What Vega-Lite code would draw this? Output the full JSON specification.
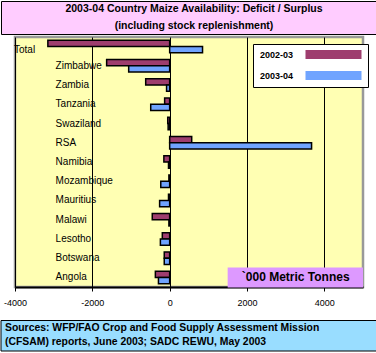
{
  "$schema": "https://vega.github.io/schema/vega-lite/v6.json",
  "padding": 0,
  "background": "white",
  "spacing": 3,
  "bounds": "flush",
  "center": true,
  "config": {
    "view": {"stroke": null},
    "font": "Liberation Sans",
    "locale": {"number": {"decimal": ".", "thousands": ",", "grouping": [3], "currency": ["$", ""], "minus": "-"}},
    "axisX": {
      "title": null, "format": "d",
      "grid": true, "gridColor": "black", "gridWidth": 1, "gridOpacity": 1,
      "domainColor": "black", "domainWidth": 2,
      "tickColor": "black", "tickSize": 4, "tickWidth": 1,
      "labelFont": "Liberation Sans", "labelFontSize": 9, "labelColor": "black",
      "labelPadding": 7, "labelFlush": false, "labelOverlap": false, "labelSeparation": -30
    }
  },
  "resolve": {"scale": {"color": "independent", "x": "independent", "y": "independent"}, "legend": {"color": "independent"}},
  "vconcat": [
    {
      "width": 376,
      "height": 33,
      "view": {"fill": "#FFCCFF", "stroke": "black", "strokeWidth": 1},
      "data": {"values": [
        {"line": 1, "t": "2003-04 Country Maize Availability: Deficit / Surplus"},
        {"line": 2, "t": "(including stock replenishment)"}
      ]},
      "mark": {"type": "text", "fontWeight": "bold", "fontSize": 10.5, "baseline": "middle", "dx": 5, "color": "black", "font": "Liberation Sans"},
      "encoding": {
        "y": {"field": "line", "type": "ordinal", "axis": null, "scale": {"paddingInner": 0, "paddingOuter": 0.3}},
        "text": {"field": "t", "type": "nominal"}
      }
    },
    {
      "width": 348,
      "height": 250,
      "view": {"fill": "#FFFFB3", "stroke": "#999999", "strokeWidth": 2.5},
      "data": {
        "values": [
          {"country": "Total", "year": "2002-03", "value": -3150},
          {"country": "Total", "year": "2003-04", "value": 850},
          {"country": "Zimbabwe", "year": "2002-03", "value": -1630},
          {"country": "Zimbabwe", "year": "2003-04", "value": -1060},
          {"country": "Zambia", "year": "2002-03", "value": -620},
          {"country": "Zambia", "year": "2003-04", "value": -80},
          {"country": "Tanzania", "year": "2002-03", "value": -130},
          {"country": "Tanzania", "year": "2003-04", "value": -490},
          {"country": "Swaziland", "year": "2002-03", "value": -50},
          {"country": "Swaziland", "year": "2003-04", "value": -40},
          {"country": "RSA", "year": "2002-03", "value": 570},
          {"country": "RSA", "year": "2003-04", "value": 3670},
          {"country": "Namibia", "year": "2002-03", "value": -150},
          {"country": "Namibia", "year": "2003-04", "value": -30},
          {"country": "Mozambique", "year": "2002-03", "value": -20},
          {"country": "Mozambique", "year": "2003-04", "value": -230},
          {"country": "Mauritius", "year": "2002-03", "value": -30},
          {"country": "Mauritius", "year": "2003-04", "value": -260},
          {"country": "Malawi", "year": "2002-03", "value": -450},
          {"country": "Malawi", "year": "2003-04", "value": -20},
          {"country": "Lesotho", "year": "2002-03", "value": -190},
          {"country": "Lesotho", "year": "2003-04", "value": -240},
          {"country": "Botswana", "year": "2002-03", "value": -140},
          {"country": "Botswana", "year": "2003-04", "value": -140},
          {"country": "Angola", "year": "2002-03", "value": -370},
          {"country": "Angola", "year": "2003-04", "value": -290}
        ]
      },
      "layer": [
        {
          "mark": {"type": "bar", "stroke": "black", "strokeWidth": 1.5},
          "encoding": {
            "y": {"field": "country", "type": "nominal", "sort": ["Total","Zimbabwe","Zambia","Tanzania","Swaziland","RSA","Namibia","Mozambique","Mauritius","Malawi","Lesotho","Botswana","Angola"], "axis": null, "scale": {"paddingInner": 0.35, "paddingOuter": 0.175}},
            "x": {
              "field": "value", "type": "quantitative",
              "scale": {"domain": [-4000, 5000], "nice": false, "zero": false},
              "axis": {"values": [-4000, -3000, -2000, -1000, 0, 1000, 2000, 3000, 4000, 5000], "labelOverlap": false, "labelSeparation": -30, "title": null}
            },
            "yOffset": {"field": "year", "type": "nominal", "sort": ["2002-03", "2003-04"]},
            "color": {
              "field": "year", "type": "nominal",
              "scale": {"domain": ["2002-03", "2003-04"], "range": ["#9E3D6E", "#70A4FF"]},
              "legend": {
                "orient": "none", "legendX": 238, "legendY": 7, "title": null, "direction": "vertical",
                "fillColor": "white", "strokeColor": "black",
                "padding": 6, "rowPadding": 11,
                "symbolType": "M10.5,-1.1H24.5V1.1H10.5Z", "symbolSize": 64, "symbolStrokeWidth": 0,
                "labelOffset": -8, "labelFont": "Liberation Sans", "labelFontWeight": "bold", "labelFontSize": 9, "labelColor": "black",
                "encode": {
                  "legend": {"update": {"strokeWidth": {"value": 1.5}}},
                  "symbols": {"update": {"fill": {"signal": "datum.value === '2002-03' ? '#B0005F' : '#0088FF'"}, "strokeWidth": {"value": 0}, "opacity": {"value": 1}}}
                }
              }
            }
          }
        },
        {
          "transform": [{"filter": "datum.year === '2002-03' && datum.country !== 'Total'"}],
          "mark": {"type": "text", "align": "left", "baseline": "middle", "fontSize": 10, "color": "black", "font": "Liberation Sans"},
          "encoding": {
            "y": {"field": "country", "type": "nominal", "sort": ["Total","Zimbabwe","Zambia","Tanzania","Swaziland","RSA","Namibia","Mozambique","Mauritius","Malawi","Lesotho","Botswana","Angola"]},
            "x": {"datum": -2950, "type": "quantitative"},
            "text": {"field": "country", "type": "nominal"}
          }
        },
        {
          "transform": [{"filter": "datum.year === '2002-03' && datum.country === 'Total'"}],
          "mark": {"type": "text", "align": "left", "baseline": "middle", "fontSize": 10, "color": "black", "font": "Liberation Sans", "dx": -1, "dy": 3},
          "encoding": {
            "y": {"field": "country", "type": "nominal", "sort": ["Total","Zimbabwe","Zambia","Tanzania","Swaziland","RSA","Namibia","Mozambique","Mauritius","Malawi","Lesotho","Botswana","Angola"]},
            "x": {"datum": -4000, "type": "quantitative"},
            "text": {"field": "country", "type": "nominal"}
          }
        },
        {
          "data": {"values": [{"u": "`000 Metric Tonnes"}]},
          "mark": {"type": "bar", "color": "#DD99FF", "height": 20},
          "encoding": {
            "x": {"datum": 1500, "type": "quantitative"},
            "x2": {"datum": 5000},
            "y": {"datum": "Angola", "type": "nominal"}
          }
        },
        {
          "data": {"values": [{"u": "`000 Metric Tonnes"}]},
          "mark": {"type": "text", "fontWeight": "bold", "fontSize": 12, "baseline": "middle", "color": "black", "font": "Liberation Sans"},
          "encoding": {
            "x": {"datum": 3260, "type": "quantitative"},
            "y": {"datum": "Angola", "type": "nominal"},
            "text": {"field": "u", "type": "nominal"}
          }
        }
      ]
    },
    {
      "width": 376,
      "height": 61,
      "data": {"values": [
        {"part": "box", "line": 1, "s": "Sources: WFP/FAO Crop and Food Supply Assessment Mission"},
        {"part": "box", "line": 2, "s": "(CFSAM) reports, June 2003; SADC REWU, May 2003"}
      ]},
      "layer": [
        {
          "transform": [{"filter": "datum.line === 1"}],
          "mark": {"type": "rect", "fill": "#99DDFF", "stroke": "black", "strokeWidth": 1},
          "encoding": {
            "y": {"field": "part", "type": "nominal", "axis": null, "scale": {"domain": ["gap", "box"], "paddingInner": 0, "paddingOuter": 0}},
            "x": {"datum": 0, "type": "quantitative", "axis": null, "scale": {"domain": [0, 1], "nice": false}},
            "x2": {"datum": 1}
          }
        },
        {
          "transform": [{"filter": "datum.line === 1"}],
          "mark": {"type": "text", "fontWeight": "bold", "fontSize": 10.4, "align": "left", "baseline": "middle", "dx": 4, "dy": -8, "color": "black", "font": "Liberation Sans"},
          "encoding": {
            "y": {"field": "part", "type": "nominal", "axis": null},
            "x": {"datum": 0, "type": "quantitative", "axis": null},
            "text": {"field": "s", "type": "nominal"}
          }
        },
        {
          "transform": [{"filter": "datum.line === 2"}],
          "mark": {"type": "text", "fontWeight": "bold", "fontSize": 10.4, "align": "left", "baseline": "middle", "dx": 4, "dy": 6, "color": "black", "font": "Liberation Sans"},
          "encoding": {
            "y": {"field": "part", "type": "nominal", "axis": null},
            "x": {"datum": 0, "type": "quantitative", "axis": null},
            "text": {"field": "s", "type": "nominal"}
          }
        }
      ]
    }
  ]
}
